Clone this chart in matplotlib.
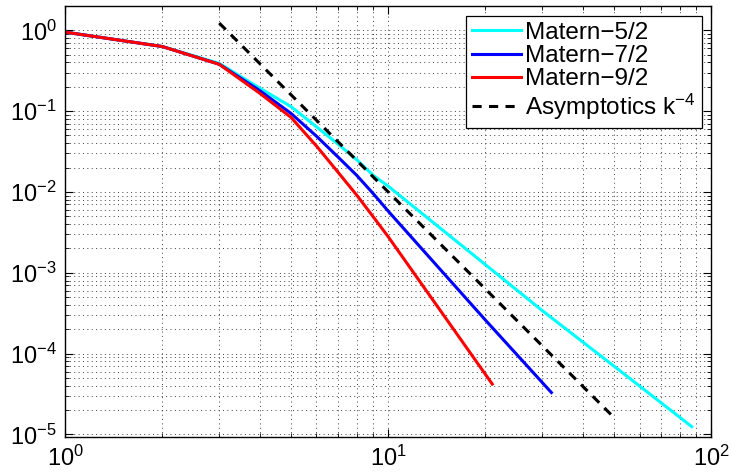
import numpy as np
import matplotlib
matplotlib.use('Agg')
import matplotlib.pyplot as plt

plt.rcParams['font.family'] = ['Liberation Sans', 'DejaVu Sans']
plt.rcParams['mathtext.fontset'] = 'custom'
plt.rcParams['mathtext.rm'] = 'Liberation Sans'
plt.rcParams['mathtext.it'] = 'Liberation Sans'

# значения
k_c = [1, 2, 3, 4, 5, 6, 7, 8, 9, 10, 20, 30, 50, 87]
matern52 = [0.95, 0.63, 0.39, 0.193, 0.114, 0.064, 0.039, 0.025, 0.016,
            0.0118, 1.26e-3, 3.4e-4, 7.0e-5, 1.25e-5]

k_b = [1, 2, 3, 4, 5, 6, 7, 8, 9, 10, 20, 32]
matern72 = [0.95, 0.63, 0.38, 0.18, 0.094, 0.049, 0.027, 0.016, 0.0095,
            0.0058, 2.6e-4, 3.3e-5]

k_r = [1, 2, 3, 4, 5, 6, 7, 8, 9, 10, 21]
matern92 = [0.95, 0.63, 0.38, 0.167, 0.084, 0.037, 0.0175, 0.0091, 0.0049,
            0.0028, 4.2e-5]

k_a = [3, 50]
asympt = [1.23, 1.62e-5]

fig = plt.figure(figsize=(7.31, 4.75), dpi=100)
ax = fig.add_axes([0.089, 0.08, 0.884, 0.9074])

ax.loglog(k_c, matern52, color='#00ffff', lw=2.2, label='Matern\u22125/2')
ax.loglog(k_b, matern72, color='#0000ff', lw=2.2, label='Matern\u22127/2')
ax.loglog(k_r, matern92, color='#ff0000', lw=2.2, label='Matern\u22129/2')
ax.loglog(k_a, asympt, color='k', lw=2.2, ls='--', dashes=(3, 2.4),
          label='Asymptotics k$^{-4}$')

ax.set_xlim(1, 100)
ax.set_ylim(9.3e-6, 2.0)

ax.grid(True, which='both', ls=(0, (1, 3.5)), color='0.25', lw=0.7)
ax.tick_params(which='both', direction='in', top=True, right=True,
               labelsize=17, pad=6)
ax.tick_params(which='major', length=6, width=0.8)
ax.tick_params(which='minor', length=3, width=0.6)
ax.set_yticks([1e-5, 1e-4, 1e-3, 1e-2, 1e-1, 1e0])
for sp in ax.spines.values():
    sp.set_linewidth(1.0)

leg = ax.legend(loc='upper right', fontsize=17.5, frameon=True, fancybox=False,
                edgecolor='k', framealpha=1, handlelength=2.0,
                handletextpad=0.15, labelspacing=0.05, borderpad=0.25,
                borderaxespad=0.4)
leg.get_frame().set_linewidth(0.9)

plt.savefig('out.png', dpi=100)
